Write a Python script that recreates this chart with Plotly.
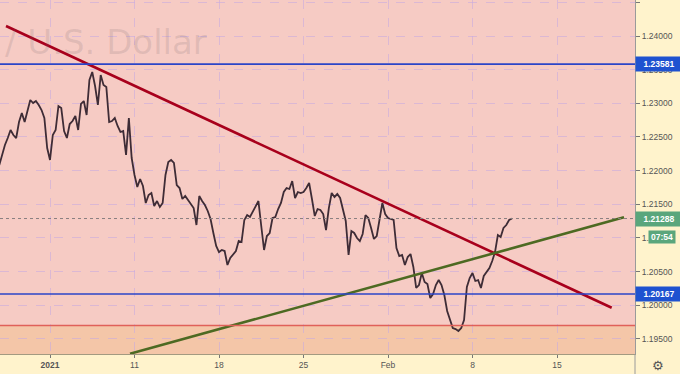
import pandas as pd
import plotly.graph_objects as go

# ---- data -------------------------------------------------------------
holidays = ["2021-01-01"]
trading_days = pd.bdate_range("2020-12-29", "2021-02-10", freq="C", holidays=holidays)
bar_hours = [0, 4, 8, 12, 16, 20]

# EURUSD 4-hour closes
closes = [
    1.22083, 1.22232, 1.22380, 1.22484, 1.22603, 1.22529, 1.22484, 1.22722, 1.22856, 1.22722,
    1.22900, 1.23049, 1.23004, 1.23034, 1.22975, 1.22900, 1.22782, 1.22336, 1.22158, 1.22529,
    1.22603, 1.22960, 1.22930, 1.22588, 1.22484, 1.22692, 1.22737, 1.22811, 1.22603, 1.22990,
    1.23034, 1.22826, 1.23346, 1.23465, 1.23257, 1.22975, 1.23421, 1.23272, 1.23242, 1.22722,
    1.22737, 1.22782, 1.22663, 1.22574, 1.22588, 1.22232, 1.22782, 1.22187, 1.21935, 1.21756,
    1.21875, 1.21771, 1.21519, 1.21637, 1.21667, 1.21474, 1.21548, 1.21459, 1.21519, 1.21935,
    1.22128, 1.22158, 1.22113, 1.21786, 1.21741, 1.21578, 1.21623, 1.21563, 1.21489, 1.21444,
    1.21192, 1.21623, 1.21548, 1.21489, 1.21400, 1.21281, 1.21073, 1.20880, 1.20790, 1.20820,
    1.20805, 1.20597, 1.20701, 1.20746, 1.20805, 1.20954, 1.20939, 1.21266, 1.21340, 1.21310,
    1.21385, 1.21474, 1.21548, 1.21177, 1.20820, 1.21028, 1.21073, 1.21296, 1.21310, 1.21429,
    1.21519, 1.21682, 1.21741, 1.21727, 1.21845, 1.21593, 1.21682, 1.21667, 1.21682, 1.21741,
    1.21816, 1.21578, 1.21325, 1.21429, 1.21415, 1.21355, 1.21117, 1.21444, 1.21667, 1.21608,
    1.21652, 1.21593, 1.21415, 1.21251, 1.20746, 1.21102, 1.21073, 1.20998, 1.20954, 1.21058,
    1.21340, 1.21296, 1.21147, 1.20984, 1.21028, 1.21310, 1.21519, 1.21355, 1.21296, 1.21281,
    1.21266, 1.20850, 1.20731, 1.20746, 1.20597, 1.20716, 1.20761, 1.20568, 1.20256, 1.20300,
    1.20478, 1.20345, 1.20315, 1.20107, 1.20166, 1.20300, 1.20374, 1.20300, 1.20152, 1.19914,
    1.19795, 1.19661, 1.19646, 1.19617, 1.19661, 1.19780, 1.20270, 1.20404, 1.20478, 1.20360,
    1.20374, 1.20256, 1.20434, 1.20493, 1.20553, 1.20657, 1.20790, 1.21043, 1.21013, 1.21147,
    1.21192, 1.21266, 1.21288,
]

# trend lines (time, price endpoints)
red_trend_t = ["2020-12-29 09:30", "2021-02-18 05:41"]
red_trend_p = [1.24149, 1.19963]
green_trend_t = ["2021-01-08 17:37", "2021-02-18 23:08"]
green_trend_p = [1.19279, 1.21306]

# horizontal levels
level_upper = 1.23581
level_lower = 1.20167
level_support = 1.19700
last_price = 1.21288
countdown = "07:54"

x_tick_vals = ["2021-01-04", "2021-01-11", "2021-01-18", "2021-01-25",
               "2021-02-01", "2021-02-08", "2021-02-15"]
x_tick_text = ["<b>2021</b>", "11", "18", "25", "Feb", "8", "15"]
y_tick_vals = [1.195, 1.200, 1.205, 1.210, 1.215, 1.220, 1.225, 1.230, 1.235, 1.240, 1.245]

x_range = ["2020-12-29 01:00", "2021-02-19 14:46"]
y_range = [1.19275, 1.24535]

times = [d + pd.Timedelta(hours=h) for d in trading_days for h in bar_hours][:len(closes)]

# ---- figure -----------------------------------------------------------
PINK = "#f6cbc4"
PAPER = "#fff3cc"
GRID = "rgba(196,170,226,0.55)"
BLUE = "#2b45c8"

fig = go.Figure()

fig.add_trace(go.Scatter(x=times, y=closes, mode="lines",
                         line=dict(color="#3e2c36", width=1.8),
                         hoverinfo="skip", showlegend=False))
fig.add_trace(go.Scatter(x=red_trend_t, y=red_trend_p, mode="lines",
                         line=dict(color="#a8001c", width=2.6),
                         hoverinfo="skip", showlegend=False))
fig.add_trace(go.Scatter(x=green_trend_t, y=green_trend_p, mode="lines",
                         line=dict(color="#4d6a22", width=2.6),
                         hoverinfo="skip", showlegend=False))

shapes = [
    dict(type="rect", xref="paper", yref="y", x0=0, x1=1, y0=y_range[0], y1=level_support,
         fillcolor="#f4c6a8", line=dict(width=0), layer="below"),
    dict(type="line", xref="paper", yref="y", x0=0, x1=1, y0=level_support, y1=level_support,
         line=dict(color="#e0605a", width=1.5)),
    dict(type="line", xref="paper", yref="y", x0=0, x1=1, y0=level_upper, y1=level_upper,
         line=dict(color=BLUE, width=1.8)),
    dict(type="line", xref="paper", yref="y", x0=0, x1=1, y0=level_lower, y1=level_lower,
         line=dict(color=BLUE, width=1.5)),
    dict(type="line", xref="paper", yref="y", x0=0, x1=1, y0=last_price, y1=last_price,
         line=dict(color="#8a7f80", width=1, dash="dot")),
    dict(type="line", xref="paper", yref="paper", x0=1, x1=1, y0=0, y1=-0.06,
         line=dict(color="#9a9a9a", width=1)),
]

label_font = dict(family="Liberation Sans, Arial, sans-serif", size=8.5, color="white")
annotations = [
    dict(text="/ U.S. Dollar", xref="paper", yref="paper", x=0.004, y=0.882,
         xanchor="left", yanchor="middle", showarrow=False,
         font=dict(family="DejaVu Sans", size=34, color="rgba(110,95,105,0.16)")),
    dict(text="<b>1.23581</b>", xref="paper", yref="y", x=1.0, y=level_upper,
         xanchor="left", yanchor="middle", showarrow=False, bgcolor="#1f52d0",
         font=label_font, borderpad=2, width=42),
    dict(text="<b>1.20167</b>", xref="paper", yref="y", x=1.0, y=level_lower,
         xanchor="left", yanchor="middle", showarrow=False, bgcolor="#1f52d0",
         font=label_font, borderpad=2, width=42),
    dict(text="<b>1.21288</b>", xref="paper", yref="y", x=1.0, y=last_price,
         xanchor="left", yanchor="middle", showarrow=False, bgcolor="#5aa67c",
         font=label_font, borderpad=2, width=42),
    dict(text="<b>" + countdown + "</b>", xref="paper", yref="y", x=1.02, y=last_price - 0.0027,
         xanchor="left", yanchor="middle", showarrow=False, bgcolor="#5aa67c",
         font=label_font, borderpad=1, width=24),
    dict(text="⚙", xref="paper", yref="paper", x=1.036, y=-0.032,
         xanchor="center", yanchor="middle", showarrow=False,
         font=dict(family="DejaVu Sans", size=13, color="#555555")),
]

fig.update_layout(
    width=680, height=374,
    margin=dict(l=0, r=45, t=0, b=20),
    paper_bgcolor=PAPER, plot_bgcolor=PINK,
    showlegend=False,
    shapes=shapes, annotations=annotations,
    font=dict(family="Liberation Sans, Arial, sans-serif", size=8.5, color="#555555"),
)
fig.update_xaxes(
    type="date", range=x_range,
    rangebreaks=[dict(bounds=["sat", "mon"]), dict(values=holidays)],
    tickvals=x_tick_vals, ticktext=x_tick_text,
    showgrid=True, gridcolor=GRID, griddash="dash", gridwidth=1,
    showline=True, linecolor="#a39a80", linewidth=1,
    ticks="outside", ticklen=3, tickcolor="#777777",
    zeroline=False, fixedrange=True,
    tickfont=dict(size=8.5, color="#555555"),
)
fig.update_yaxes(
    range=y_range, side="right", tickvals=y_tick_vals, tickformat=".5f",
    showgrid=True, gridcolor=GRID, griddash="dash", gridwidth=1,
    showline=True, linecolor="#9a9a9a", linewidth=1,
    ticks="outside", ticklen=4, tickcolor="#777777",
    zeroline=False, fixedrange=True,
    tickfont=dict(size=8.5, color="#555555"),
)

fig.write_html("out.html", config={"displayModeBar": False},
               post_script="document.body.style.margin='0';")
